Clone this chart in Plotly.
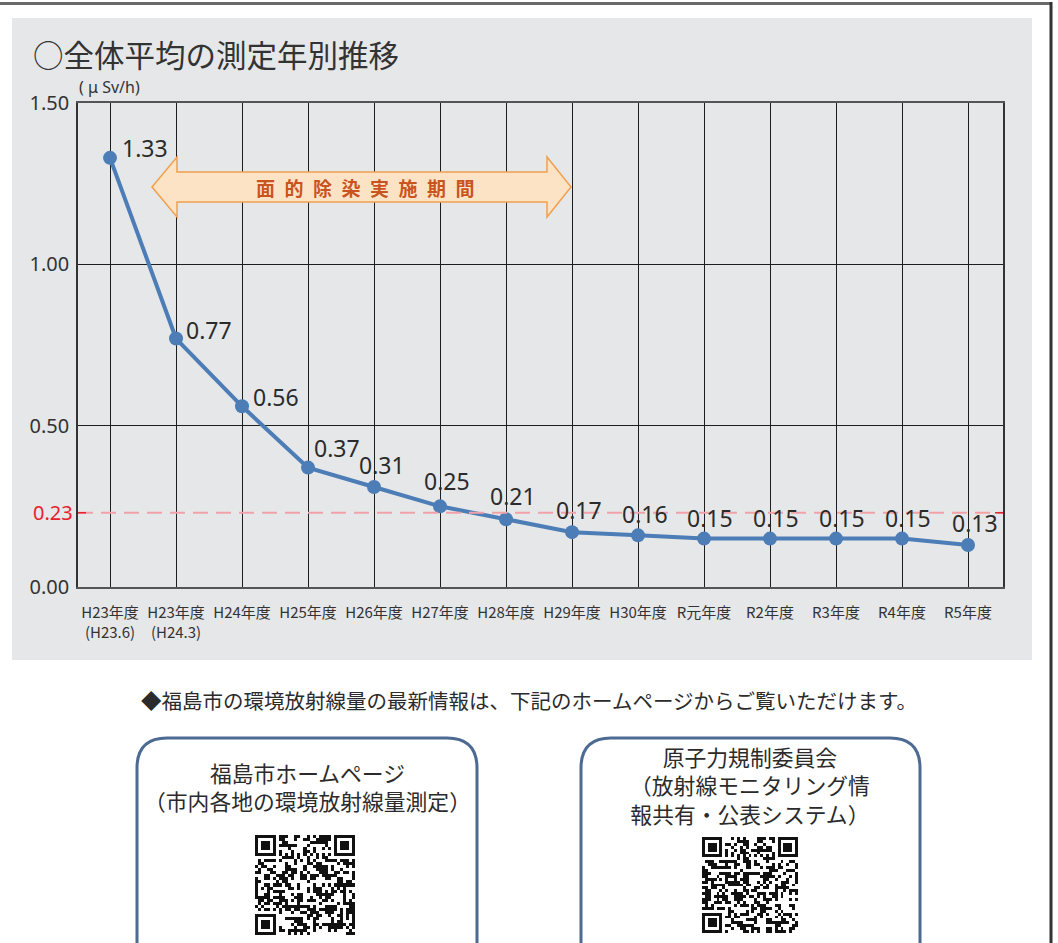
import base64
import hashlib
import plotly.graph_objects as go

# ---------------- data ----------------
categories = ["H23年度<br>(H23.6)", "H23年度<br>(H24.3)", "H24年度", "H25年度", "H26年度",
              "H27年度", "H28年度", "H29年度", "H30年度", "R元年度", "R2年度",
              "R3年度", "R4年度", "R5年度"]
values = [1.33, 0.77, 0.56, 0.37, 0.31, 0.25, 0.21, 0.17, 0.16, 0.15, 0.15, 0.15, 0.15, 0.13]
reference_level = 0.23
y_ticks = [0.0, 0.5, 1.0, 1.5]
y_ticktext = ["0.00", "0.50", "1.00", "1.50"]
decon_label = "面的除染実施期間"
left_box_lines = ["福島市ホームページ", "（市内各地の環境放射線量測定）"]
right_box_lines = ["原子力規制委員会", "（放射線モニタリング情", "報共有・公表システム）"]

# ---------------- style ----------------
W, H = 1058, 943
JP = "Noto Sans CJK JP"
NUM = "Noto Sans, Open Sans"
LINE_COLOR = "#4c7db6"
TEXT = "#2b2b2b"
label_dx = [35, 33, 34, 29, 8, 7, 7, 7, 7, 6, 6, 6, 6, 7]
label_dy = [10, 9, 9, 20, 22, 25, 23, 22, 21, 21, 21, 21, 21, 22]


def px(x):
    return x / W


def py(y):
    return 1 - y / H


x_idx = list(range(len(categories)))
x_range = [-0.485, 13.53]

fig = go.Figure()
fig.add_trace(go.Scatter(
    x=x_idx, y=values, mode="lines+markers",
    line=dict(color=LINE_COLOR, width=4),
    marker=dict(color=LINE_COLOR, size=14),
    hoverinfo="skip", showlegend=False,
))

annotations = []
for i, v in enumerate(values):
    annotations.append(dict(
        x=i, y=v, xref="x", yref="y", text=f"{v:.2f}", showarrow=False,
        xanchor="center", yanchor="middle", xshift=label_dx[i], yshift=label_dy[i],
        font=dict(family=NUM, size=23, color=TEXT),
    ))

# title, unit
annotations += [
    dict(x=px(31), y=py(54), xref="paper", yref="paper", text="○全体平均の測定年別推移",
         showarrow=False, xanchor="left", yanchor="middle",
         font=dict(family=JP, size=30.5, color="#333333")),
    dict(x=px(77), y=py(87), xref="paper", yref="paper", text="( μ Sv/h)",
         showarrow=False, xanchor="left", yanchor="middle",
         font=dict(family=NUM, size=16, color="#333333")),
    dict(x=px(75), y=reference_level, xref="paper", yref="y", text=f"{reference_level:.2f}",
         showarrow=False, xanchor="right", yanchor="middle",
         font=dict(family=NUM, size=20, color="#e8202a")),
    dict(x=px(365), y=py(187), xref="paper", yref="paper",
         text="\u2002".join(decon_label), showarrow=False,
         xanchor="center", yanchor="middle",
         font=dict(family=JP, size=19, color="#c9541f", weight="bold")),
    dict(x=px(529), y=py(700), xref="paper", yref="paper",
         text="◆福島市の環境放射線量の最新情報は、下記のホームページからご覧いただけます。",
         showarrow=False, xanchor="center", yanchor="middle",
         font=dict(family=JP, size=20.5, color=TEXT)),
    dict(x=px(307), y=py(786), xref="paper", yref="paper",
         text="<br>".join(left_box_lines), showarrow=False,
         xanchor="center", yanchor="middle", align="center",
         font=dict(family=JP, size=21.8, color=TEXT)),
    dict(x=px(750), y=py(785), xref="paper", yref="paper",
         text="<br>".join(right_box_lines), showarrow=False,
         xanchor="center", yanchor="middle", align="center",
         font=dict(family=JP, size=21.8, color=TEXT)),
]

shapes = []
# gray panel
shapes.append(dict(type="rect", xref="paper", yref="paper", x0=px(12), x1=px(1032),
                   y0=py(660), y1=py(18), fillcolor="#e6e7e8", line=dict(width=0),
                   layer="below"))
# frame lines
shapes.append(dict(type="line", xref="paper", yref="paper", x0=0, x1=px(1052),
                   y0=py(3.5), y1=py(3.5), line=dict(color="#6a6a6a", width=3)))
shapes.append(dict(type="line", xref="paper", yref="paper", x0=px(1051), x1=px(1051),
                   y0=py(2), y1=py(950), line=dict(color="#333333", width=3)))
# reference dashed line
shapes.append(dict(type="line", xref="x", yref="y", x0=x_range[0], x1=x_range[1],
                   y0=reference_level, y1=reference_level,
                   line=dict(color="#f0a2a8", width=2, dash="15px,8px"), layer="above"))
shapes.append(dict(type="line", xref="paper", yref="y", x0=px(78), x1=px(86),
                   y0=reference_level, y1=reference_level,
                   line=dict(color="#e8202a", width=1.5)))
shapes.append(dict(type="line", xref="paper", yref="y", x0=px(995), x1=px(1003),
                   y0=reference_level, y1=reference_level,
                   line=dict(color="#e8202a", width=1.5)))

# double arrow
ax_l, ax_lb, ax_rb, ax_r = 152, 177, 547, 571
ay_t, ay_st, ay_sb, ay_b, ay_m = 157, 172, 202, 217, 187
pts = [(ax_l, ay_m), (ax_lb, ay_t), (ax_lb, ay_st), (ax_rb, ay_st), (ax_rb, ay_t),
       (ax_r, ay_m), (ax_rb, ay_b), (ax_rb, ay_sb), (ax_lb, ay_sb), (ax_lb, ay_b)]
path = "M " + " L ".join(f"{px(a):.5f},{py(b):.5f}" for a, b in pts) + " Z"
shapes.append(dict(type="path", xref="paper", yref="paper", path=path,
                   fillcolor="#fde3c6", line=dict(color="#f0a04e", width=1.5),
                   layer="above"))


# rounded boxes (open at bottom, cut off by page)
def rbox(x0, y0, x1, y1, r):
    p = [f"M {px(x0):.5f},{py(y1):.5f}",
         f"L {px(x0):.5f},{py(y0 + r):.5f}",
         f"Q {px(x0):.5f},{py(y0):.5f} {px(x0 + r):.5f},{py(y0):.5f}",
         f"L {px(x1 - r):.5f},{py(y0):.5f}",
         f"Q {px(x1):.5f},{py(y0):.5f} {px(x1):.5f},{py(y0 + r):.5f}",
         f"L {px(x1):.5f},{py(y1):.5f}"]
    return " ".join(p)


for bx0, bx1 in [(137, 477), (581, 920)]:
    shapes.append(dict(type="path", xref="paper", yref="paper",
                       path=rbox(bx0, 738, bx1, 980, 30),
                       line=dict(color="#4d6a93", width=3)))


# QR-like decorative images
def qr_svg(seed_text, n=33):
    bits = []
    h = seed_text.encode("utf-8")
    while len(bits) < n * n:
        h = hashlib.sha256(h).digest()
        for byte in h:
            for k in range(8):
                bits.append((byte >> k) & 1)
    grid = [[bits[r * n + c] for c in range(n)] for r in range(n)]

    def finder(r0, c0):
        for r in range(-1, 8):
            for c in range(-1, 8):
                rr, cc = r0 + r, c0 + c
                if 0 <= rr < n and 0 <= cc < n:
                    if r in (-1, 7) or c in (-1, 7):
                        grid[rr][cc] = 0
                    elif r in (0, 6) or c in (0, 6) or (2 <= r <= 4 and 2 <= c <= 4):
                        grid[rr][cc] = 1
                    else:
                        grid[rr][cc] = 0

    finder(0, 0)
    finder(0, n - 7)
    finder(n - 7, 0)
    for i in range(8, n - 8):
        grid[6][i] = 1 - i % 2
        grid[i][6] = 1 - i % 2
    rects = []
    for r in range(n):
        for c in range(n):
            if grid[r][c]:
                rects.append(f'<rect x="{c}" y="{r}" width="1" height="1"/>')
    svg = (f'<svg xmlns="http://www.w3.org/2000/svg" viewBox="0 0 {n} {n}" '
           f'width="{n * 4}" height="{n * 4}" shape-rendering="crispEdges">'
           f'<rect width="{n}" height="{n}" fill="white"/><g fill="#111">'
           + "".join(rects) + "</g></svg>")
    return "data:image/svg+xml;base64," + base64.b64encode(svg.encode()).decode()


images = [
    dict(source=qr_svg("fukushima-city"), xref="paper", yref="paper",
         x=px(255), y=py(835), sizex=100 / W, sizey=100 / H,
         xanchor="left", yanchor="top", sizing="stretch", layer="above"),
    dict(source=qr_svg("nra-monitoring"), xref="paper", yref="paper",
         x=px(702), y=py(837), sizex=96 / W, sizey=96 / H,
         xanchor="left", yanchor="top", sizing="stretch", layer="above"),
]

fig.update_layout(
    width=W, height=H,
    margin=dict(l=0, r=0, t=0, b=0, pad=0, autoexpand=False),
    paper_bgcolor="white",
    plot_bgcolor="rgba(0,0,0,0)",
    showlegend=False,
    annotations=annotations,
    shapes=shapes,
    images=images,
    xaxis=dict(
        domain=[px(78), px(1003)], range=x_range, automargin=False,
        tickmode="array", tickvals=x_idx, ticktext=categories,
        showgrid=True, gridcolor="#1e1e1e", gridwidth=1,
        showline=True, linecolor="#555555", linewidth=2, mirror=True,
        ticks="", ticklabelstandoff=11, zeroline=False,
        tickfont=dict(family=JP, size=15, color="#333333"),
        fixedrange=True,
    ),
    yaxis=dict(
        domain=[py(587), py(103)], range=[0, 1.5], automargin=False,
        tickmode="array", tickvals=y_ticks, ticktext=y_ticktext,
        showgrid=True, gridcolor="#1e1e1e", gridwidth=1,
        showline=True, linecolor="#333333", linewidth=1.5, mirror=True,
        ticks="", ticklabelstandoff=3, zeroline=False,
        tickfont=dict(family=NUM, size=20, color="#333333"),
        fixedrange=True,
    ),
)

fig.write_html("out.html")
